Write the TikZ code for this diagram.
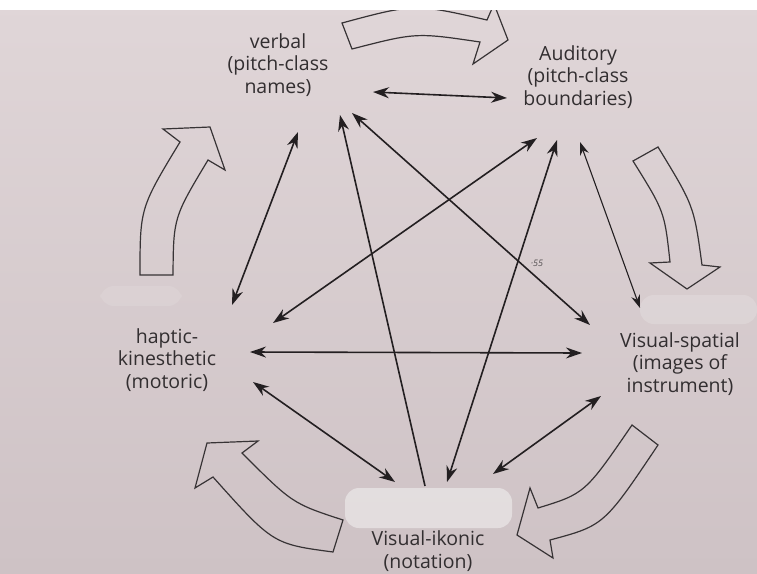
\documentclass[tikz,border=0pt]{standalone}
\usepackage{fontspec}
\setmainfont{Open Sans}
\usetikzlibrary{arrows.meta}
\definecolor{paper}{RGB}{224,214,216}
\definecolor{paperdark}{RGB}{206,194,197}
\definecolor{ink}{RGB}{35,31,33}
\definecolor{txt}{RGB}{50,46,48}
\definecolor{outline}{RGB}{55,51,53}
\definecolor{whiteout}{RGB}{236,233,233}
\tikzset{
  lbl/.style={align=center, text=txt, font=\fontsize{19.5}{22.5}\selectfont, inner sep=0pt},
  link/.style={draw=ink, line width=1.6pt, {Stealth[length=16pt,width=11pt]}-{Stealth[length=16pt,width=11pt]}},
  halflink/.style={draw=ink, line width=1.6pt, {Stealth[length=16pt,width=11pt]}-},
  thinlink/.style={draw=ink, line width=1.1pt, {Stealth[length=13pt,width=9pt]}-{Stealth[length=13pt,width=9pt]}},
  hollow/.style={draw=outline, line width=1.2pt, line join=miter},
  blob/.style={fill=whiteout, draw=none, rounded corners=14pt},
}
\begin{document}
\begin{tikzpicture}[x=1pt,y=-1pt]
\useasboundingbox (0,0) rectangle (757,573);
\clip (0,0) rectangle (757,573);
\shade[top color=paper, bottom color=paperdark] (0,0) rectangle (757,573);

% correction-fluid smudges
\fill[blob, opacity=0.7] (345,488) rectangle (512,528);
\fill[blob, opacity=0.3] (640,295) rectangle (757,324);
\fill[blob, opacity=0.2] (100,286) rectangle (182,306);

% labels
\node[lbl] (verbal) at (278,65) {verbal\\(pitch-class\\names)};
\node[lbl] (aud) at (578,77) {Auditory\\(pitch-class\\boundaries)};
\node[lbl] (hap) at (167,360) {haptic-\\kinesthetic\\(motoric)};
\node[lbl] (spat) at (680,364) {Visual-spatial\\(images of\\instrument)};
\node[lbl] (ikon) at (428,551) {Visual-ikonic\\(notation)};

% ports
\coordinate (vA) at (373,92);  \coordinate (aV) at (507,98);
\coordinate (vH) at (298,132); \coordinate (hV) at (232,305);
\coordinate (vI) at (340,115); \coordinate (iV) at (425,486);
\coordinate (vS) at (352,113); \coordinate (sV) at (590,325);
\coordinate (aH) at (537,138); \coordinate (hA) at (273,323);
\coordinate (aI) at (557,140); \coordinate (iA) at (447,482);
\coordinate (aS) at (580,142); \coordinate (sA) at (640,308);
\coordinate (hS) at (250,352); \coordinate (sH) at (582,353);
\coordinate (hI) at (253,382); \coordinate (iH) at (395,482);
\coordinate (sI) at (601,396); \coordinate (iS) at (493,474);

% connectors
\draw[link] (vA) -- (aV);
\draw[link] (vH) -- (hV);
\draw[halflink] (vI) -- (iV);
\draw[link] (vS) -- (sV);
\draw[link] (aH) -- (hA);
\draw[link] (aI) -- (iA);
\draw[thinlink] (aS) -- (sA);
\draw[link] (hS) -- (sH);
\draw[link] (hI) -- (iH);
\draw[link] (sI) -- (iS);

% small mark
\node[text=txt!85, font=\fontsize{9}{10}\selectfont\itshape, inner sep=0pt] (mark) at (537,263) {·55};

% curved hollow block arrows
% top (verbal -> auditory)
\draw[hollow] (342,23) .. controls (414.5,3.5) .. (487,20) -- (494,4) -- (508,40) -- (473,64) -- (480,42)
  .. controls (416,32.5) .. (352,49) -- cycle;
% right (auditory -> visual-spatial)
\draw[hollow] (633,161) -- (658,147) .. controls (694,206) .. (702,265) -- (720,267) -- (687,289) -- (650,263) -- (670,262)
  .. controls (664.5,211.5) .. cycle;
% bottom right (visual-spatial -> visual-ikonic)
\draw[hollow] (632,425) -- (658,445) .. controls (604,525.5) .. (550,540) -- (553,558) -- (517,535) -- (530,488) -- (538,508)
  .. controls (585,493.5) .. cycle;
% bottom left (visual-ikonic -> haptic)
\draw[hollow] (343,520) -- (333,552) .. controls (273,544) .. (213,477) -- (195,488) -- (207,443) -- (258,441) -- (242,453)
  .. controls (292.5,503.5) .. cycle;
% left (haptic -> verbal)
\draw[hollow] (140,275) -- (173,275) .. controls (173.5,217.5) .. (208,160) -- (225,170) -- (210,127) -- (163,129) -- (180,142)
  .. controls (140,208) .. cycle;

% photo edge
\fill[white] (0,0) rectangle (757,10);
\end{tikzpicture}
\end{document}
